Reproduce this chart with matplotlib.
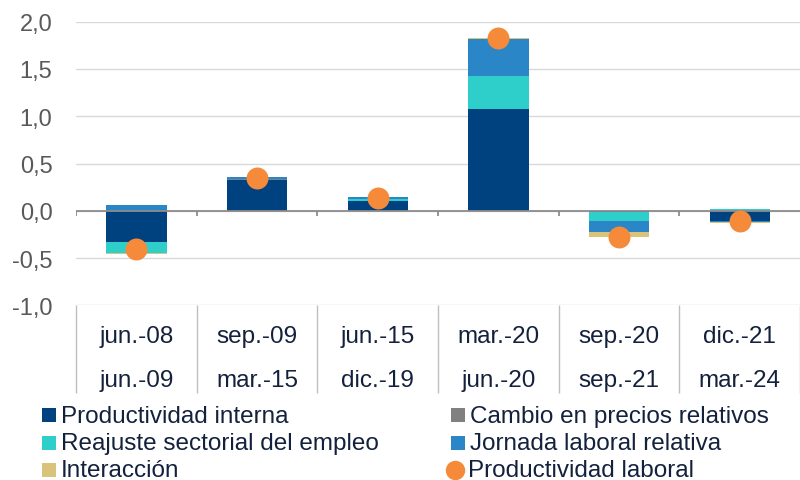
import numpy as np
import matplotlib
matplotlib.use('Agg')
import matplotlib.pyplot as plt
from matplotlib.lines import Line2D
from matplotlib.ticker import FuncFormatter

plt.rcParams['font.family'] = ['Liberation Sans', 'DejaVu Sans']

# periodos (inicio / fin)
periodo_ini = ['jun.-08', 'sep.-09', 'jun.-15', 'mar.-20', 'sep.-20', 'dic.-21']
periodo_fin = ['jun.-09', 'mar.-15', 'dic.-19', 'jun.-20', 'sep.-21', 'mar.-24']

# componentes (puntos porcentuales)
prod_interna = [-0.33, 0.33, 0.10, 1.075, -0.01, -0.105]
precios_rel = [0.0, 0.01, 0.0, 0.0, 0.0, 0.0]
reajuste = [-0.12, 0.0, 0.02, 0.345, -0.10, 0.02]
jornada = [0.065, 0.02, 0.03, 0.40, -0.11, -0.01]
interaccion = [-0.01, -0.01, 0.0, 0.01, -0.055, -0.01]
prod_laboral = [-0.40, 0.345, 0.14, 1.83, -0.28, -0.11]

series = [
    ('Productividad interna', prod_interna, '#00427F'),
    ('Cambio en precios relativos', precios_rel, '#808080'),
    ('Reajuste sectorial del empleo', reajuste, '#2ECFCB'),
    ('Jornada laboral relativa', jornada, '#2B86C8'),
    ('Interacción', interaccion, '#D9C27A'),
]
DOT = '#F58A3A'
TXT = '#14213D'

W, H = 800, 481
fig = plt.figure(figsize=(W / 100, H / 100), dpi=100)
ax = fig.add_axes([0.095, 0.363, 0.905, 0.590])

x = np.arange(len(periodo_ini))
pos_base = np.zeros(len(x))
neg_base = np.zeros(len(x))
for name, vals, col in series:
    v = np.array(vals)
    base = np.where(v >= 0, pos_base, neg_base)
    ax.bar(x, v, 0.5, bottom=base, color=col, zorder=3)
    pos_base += np.where(v >= 0, v, 0)
    neg_base += np.where(v < 0, v, 0)

ax.scatter(x, prod_laboral, s=250, color=DOT, zorder=5, linewidths=0)

ax.set_xlim(-0.5, 5.5)
ax.set_ylim(-1.0, 2.0)
ax.set_yticks(np.arange(-1.0, 2.01, 0.5))
ax.yaxis.set_major_formatter(FuncFormatter(lambda v, p: f'{v:.1f}'.replace('.', ',')))
ax.tick_params(axis='y', length=0, labelsize=17, labelcolor='#595959', pad=17)
ax.set_xticks([])
ax.grid(axis='y', color='#D9D9D9', linewidth=1, zorder=0)
for s in ax.spines.values():
    s.set_visible(False)

# eje en cero con marcas
ax.axhline(0, color='#8C8C8C', linewidth=1.3, zorder=4)
bounds = np.arange(-0.5, 6.0, 1.0)
ax.vlines(bounds[:-1], -0.055, 0, color='#8C8C8C', linewidth=1.3, zorder=4)

# tabla de categorias bajo el grafico
ax.vlines(bounds, -1.93, -1.0, color='#BFBFBF', linewidth=1, clip_on=False)
for i in x:
    ax.text(i, -1.325, periodo_ini[i], ha='center', va='center', fontsize=17.5,
            color=TXT, clip_on=False)
    ax.text(i, -1.79, periodo_fin[i], ha='center', va='center', fontsize=17.5,
            color=TXT, clip_on=False)

# leyenda (dos columnas): marcador centrado en my, texto con base en ty
leg_items = [
    (series[0][0], series[0][2], 's', 49, 416, 423),
    (series[1][0], series[1][2], 's', 458, 416, 423),
    (series[2][0], series[2][2], 's', 49, 443.5, 450.5),
    (series[3][0], series[3][2], 's', 458, 443.5, 450.5),
    (series[4][0], series[4][2], 's', 49, 470.5, 477),
    ('Productividad laboral', DOT, 'o', 455, 470.5, 477),
]
for label, col, mk, px, my, ty in leg_items:
    ms = 9.5 if mk == 's' else 14
    fig.add_artist(Line2D([px / W], [1 - my / H], transform=fig.transFigure,
                          marker=mk, markersize=ms, color=col, linestyle='none',
                          markeredgewidth=0))
    tx = px + 12 if mk == 's' else px + 13
    fig.text(tx / W, 1 - ty / H, label, ha='left', va='baseline',
             fontsize=17.5, color=TXT)

fig.savefig('out.png', dpi=100)
